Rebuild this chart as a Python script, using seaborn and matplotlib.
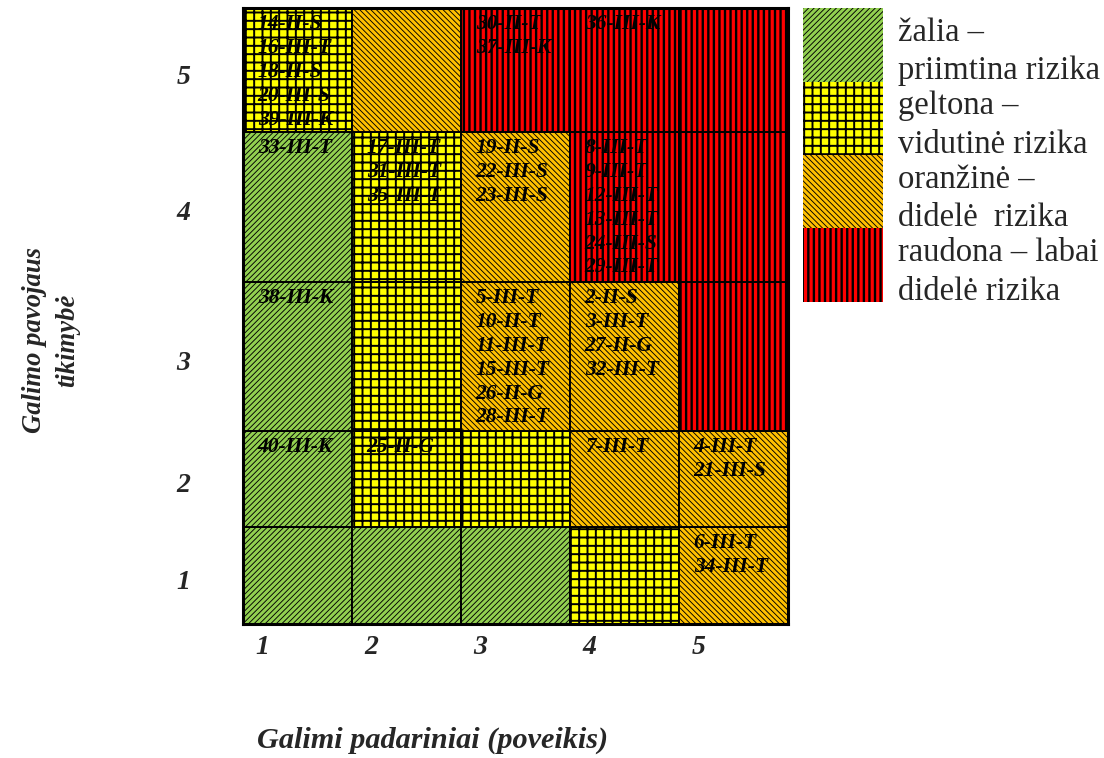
import matplotlib
matplotlib.use("Agg")
import matplotlib.pyplot as plt
import seaborn as sns

# risk matrix: rows go bottom (tikimybe 1) to top (tikimybe 5), cols = poveikis 1..5
severity = [1, 2, 3, 4, 5]
likelihood = [1, 2, 3, 4, 5]
risk_level = [
    [0, 0, 0, 1, 2],
    [0, 1, 1, 2, 2],
    [0, 1, 2, 2, 3],
    [0, 1, 2, 3, 3],
    [1, 2, 3, 3, 3],
]
cell_codes = [
    [[], [], [], [], ["6-III-T", "34-III-T"]],
    [["40-III-K"], ["25-II-G"], [], ["7-III-T"], ["4-III-T", "21-III-S"]],
    [["38-III-K"], [], ["5-III-T", "10-II-T", "11-III-T", "15-III-T", "26-II-G", "28-III-T"],
     ["2-II-S", "3-III-T", "27-II-G", "32-III-T"], []],
    [["33-III-T"], ["17-III-T", "31-III-T", "35-III-T"], ["19-II-S", "22-III-S", "23-III-S"],
     ["8-III-T", "9-III-T", "12-III-T", "13-III-T", "24-III-S", "29-III-T"], []],
    [["14-II-S", "16-III-T", "18-II-S", "20-III-S", "39-III-K"], [], ["30-II-T", "37-III-K"],
     ["36-III-K"], []],
]
level_labels = [
    "žalia –\npriimtina rizika",
    "geltona –\nvidutinė rizika",
    "oranžinė –\ndidelė  rizika",
    "raudona – labai\ndidelė rizika",
]

# styles
level_colors = ["#92D050", "#FFFF00", "#FFC000", "#FF0000"]
level_hatches = ["//////", "++", "\\\\\\\\\\\\", "|||"]
hatch_widths = [0.65, 1.4, 0.65, 1.7]
row_heights = [97, 96, 149, 150, 124]   # pixel-ish heights, bottom to top

sns.set_style("white")
plt.rcParams["font.family"] = ["Liberation Serif", "DejaVu Serif"]


def hatched_bar(axis, x, h, b, lvl, lw):
    with plt.rc_context({"hatch.linewidth": hatch_widths[lvl]}):
        bars = axis.bar(x, h, bottom=b, width=1, align="edge",
                        color=level_colors[lvl], hatch=level_hatches[lvl],
                        edgecolor="black", linewidth=lw)
    for p in bars:
        if hasattr(p, "set_hatch_linewidth"):
            p.set_hatch_linewidth(hatch_widths[lvl])
    return bars


fig = plt.figure(figsize=(11.04, 7.58), dpi=100)
ax = fig.add_axes([243 / 1104, 1 - 624 / 758, 545 / 1104, 616 / 758])

bottoms = [sum(row_heights[:i]) for i in range(len(row_heights))]
for r, lik in enumerate(likelihood):
    for c, sev in enumerate(severity):
        lvl = risk_level[r][c]
        hatched_bar(ax, c, row_heights[r], bottoms[r], lvl, 1.4)
        codes = cell_codes[r][c]
        if codes:
            ax.text(c + 0.135, bottoms[r] + row_heights[r] - 6, "\n".join(codes),
                    ha="left", va="top", fontsize=15.5, fontweight="bold",
                    fontstyle="italic", linespacing=1.26, color="black")

ax.set_xlim(0, 5)
ax.set_ylim(0, sum(row_heights))
for s in ax.spines.values():
    s.set_linewidth(2.2)
    s.set_color("black")

ax.set_xticks([i + 0.18 for i in range(5)], [str(v) for v in severity])
ax.set_yticks([bottoms[i] + row_heights[i] / 2 - 4 for i in range(5)],
              [str(v) for v in likelihood])
ax.tick_params(axis="x", length=0, pad=8)
ax.tick_params(axis="y", length=0, pad=38)
for lab in ax.get_xticklabels() + ax.get_yticklabels():
    lab.set_fontsize(20)
    lab.set_fontweight("bold")
    lab.set_fontstyle("italic")

fig.text(51 / 1104, 1 - 340 / 758, "Galimo pavojaus\ntikimybė", rotation=90,
         ha="center", va="center", multialignment="center", fontsize=19.2,
         fontweight="bold", fontstyle="italic", linespacing=1.4)
fig.text(433 / 1104, 1 - 740 / 758, "Galimi padariniai (poveikis)",
         ha="center", va="center", fontsize=21.8, fontweight="bold", fontstyle="italic")

# legend as stacked swatches
lax = fig.add_axes([803 / 1104, 1 - 302 / 758, 80 / 1104, 294 / 758])
for i in range(4):
    hatched_bar(lax, 0, 1, 3 - i, i, 0)
lax.set_xlim(0, 1)
lax.set_ylim(0, 4)
lax.axis("off")
for i, txt in enumerate(level_labels):
    yc = 8 + 294 / 4 * (i + 0.5) + 7
    fig.text(898 / 1104, 1 - yc / 758, txt, ha="left", va="center",
             fontsize=23.5, linespacing=1.33)

fig.savefig("out.png", dpi=100)
